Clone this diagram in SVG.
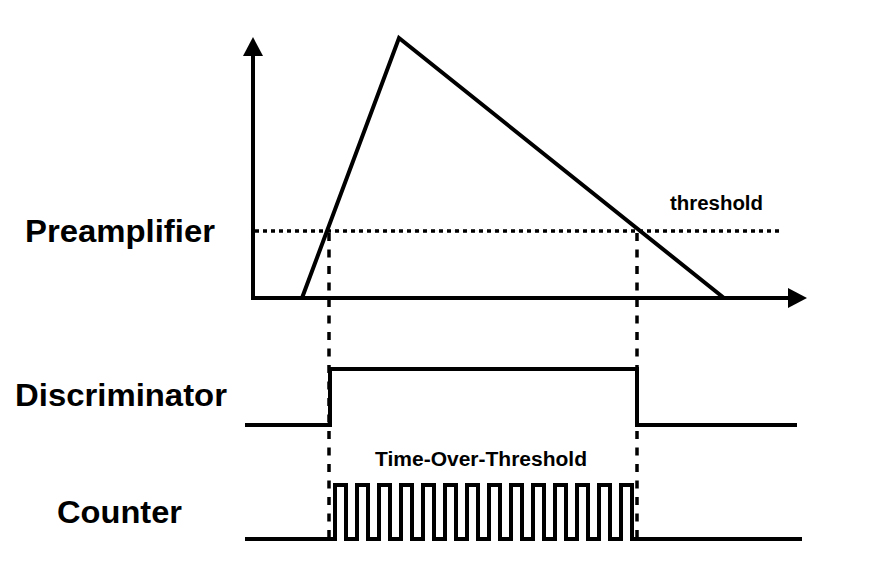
<svg xmlns="http://www.w3.org/2000/svg" width="883" height="584" viewBox="0 0 883 584">
<style>
.ln{fill:none;stroke:#000;stroke-width:4;stroke-linejoin:miter;stroke-linecap:butt}
.dot{fill:none;stroke:#000;stroke-width:3.5;stroke-dasharray:4 4}
.dash{fill:none;stroke:#000;stroke-width:3.5;stroke-dasharray:8 8.5}
.lbl{font-family:"Liberation Sans",Arial,Helvetica,sans-serif;font-weight:bold;fill:#000}
</style>
<rect width="883" height="584" fill="#fff"/>
<g id="axes">
<polyline class="ln" points="253,55 253,298 789,298"/>
<polygon points="253,37 243,56 263,56" fill="#000"/>
<polygon points="807,298 788,288 788,308" fill="#000"/>
</g>
<g id="preamp-signal">
<polyline class="ln" points="302,298 399,38 724,298"/>
</g>
<g id="threshold">
<line class="dot" x1="255" y1="231" x2="781" y2="231"/>
<text class="lbl" x="670" y="210" font-size="20" textLength="93" lengthAdjust="spacingAndGlyphs">threshold</text>
</g>
<g id="discriminator-signal">
<path class="ln" d="M245 425 H330 V369 H637 V425 H797"/>
</g>
<g id="counter-signal">
<path class="ln" d="M245 539 H335 V485 H346 V539 H357 V485 H368 V539 H379 V485 H390 V539 H401 V485 H412 V539 H423 V485 H434 V539 H445 V485 H456 V539 H467 V485 H478 V539 H489 V485 H500 V539 H511 V485 H522 V539 H533 V485 H544 V539 H555 V485 H566 V539 H577 V485 H588 V539 H599 V485 H610 V539 H621 V485 H632 V539 H802"/>
<text class="lbl" x="375" y="466" font-size="20" textLength="212" lengthAdjust="spacingAndGlyphs">Time-Over-Threshold</text>
</g>
<g id="connectors">
<line class="dash" x1="329" y1="233" x2="329" y2="540"/>
<line class="dash" x1="637" y1="233" x2="637" y2="540"/>
</g>
<g id="label-preamplifier">
<text class="lbl" x="25" y="242" font-size="31" textLength="190" lengthAdjust="spacingAndGlyphs">Preamplifier</text>
</g>
<g id="label-discriminator">
<text class="lbl" x="15" y="406" font-size="31" textLength="212" lengthAdjust="spacingAndGlyphs">Discriminator</text>
</g>
<g id="label-counter">
<text class="lbl" x="57" y="523" font-size="31" textLength="125" lengthAdjust="spacingAndGlyphs">Counter</text>
</g>
</svg>
